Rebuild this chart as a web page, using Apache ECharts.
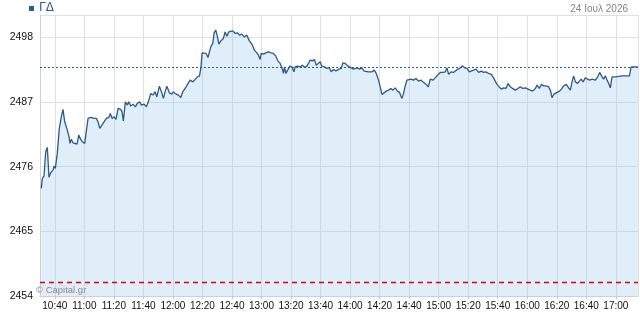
<!DOCTYPE html>
<html>
<head>
<meta charset="utf-8">
<script src="https://cdn.jsdelivr.net/npm/echarts@6/dist/echarts.min.js"></script>
<style>
html,body{margin:0;padding:0;background:#fff;}
#chart{width:640px;height:313px;}
</style>
</head>
<body>
<div id="chart"></div>
<script>
var times = [
'10:30:53','10:31:34','10:32:43','10:33:52','10:34:57','10:36:06','10:37:15','10:38:49','10:39:29','10:40:22',
'10:41:43','10:43:05','10:44:26','10:45:35','10:46:44','10:48:30','10:49:39','10:50:20','10:51:13','10:52:22',
'10:53:31','10:55:04','10:56:14','10:57:35','10:58:40','11:00:17','11:01:23','11:02:32','11:04:22','11:06:36',
'11:08:09','11:09:19','11:10:28','11:11:32','11:13:22','11:14:56','11:16:34','11:17:38','11:18:47','11:20:09',
'11:21:30','11:22:52','11:24:41','11:25:34','11:26:27','11:27:49','11:29:10','11:30:07','11:31:28','11:33:02',
'11:34:35','11:35:56','11:37:34','11:38:39','11:40:29','11:42:02','11:43:23','11:45:01','11:46:23','11:47:56',
'11:49:05','11:50:51','11:52:29','11:53:34','11:54:43','11:55:52','11:57:38','11:59:15','12:00:20','12:02:10',
'12:03:44','12:05:21','12:06:43','12:07:47','12:08:56','12:10:06','12:11:39','12:13:29','12:15:02','12:16:36',
'12:17:58','12:18:55','12:19:47','12:21:08','12:22:30','12:23:51','12:24:44','12:25:53','12:27:02','12:27:55',
'12:29:04','12:30:10','12:31:07','12:32:28','12:34:13','12:35:22','12:36:32','12:37:53','12:39:14','12:40:35',
'12:42:09','12:43:43','12:45:04','12:46:41','12:48:15','12:50:05','12:51:50','12:53:53','12:55:14','12:56:52',
'12:57:56','12:59:05','12:59:46','13:01:20','13:02:58','13:04:43','13:06:33','13:08:07','13:09:44','13:11:05',
'13:12:39','13:13:48','13:14:53','13:15:34','13:16:31','13:17:52','13:19:13','13:20:35','13:21:56','13:22:49',
'13:24:38','13:26:12','13:27:46','13:29:07','13:30:44','13:31:50','13:32:59','13:34:32','13:35:54','13:37:03',
'13:38:12','13:39:46','13:40:55','13:42:40','13:44:18','13:45:52','13:47:13','13:48:46','13:50:24','13:52:10',
'13:53:59','13:55:08','13:56:42','13:58:32','14:00:05','14:02:20','14:04:38','14:06:23','14:08:01','14:09:34',
'14:12:29','14:14:47','14:16:21','14:17:43','14:19:16','14:20:25','14:21:34','14:22:40','14:24:29','14:26:02',
'14:27:40','14:29:02','14:30:35','14:32:08','14:33:30','14:35:07','14:36:13','14:37:22','14:38:31','14:39:36',
'14:41:13','14:42:59','14:44:37','14:46:23','14:48:00','14:49:46','14:51:35','14:52:57','14:54:18','14:56:08',
'14:57:41','14:59:15','15:01:05','15:02:55','15:04:28','15:05:37','15:06:43','15:08:20','15:10:06','15:11:55',
'15:13:05','15:14:38','15:16:11','15:17:33','15:19:11','15:20:44','15:22:05','15:23:39','15:25:17','15:27:02',
'15:28:52','15:30:26','15:32:03','15:33:49','15:35:39','15:37:12','15:38:22','15:39:31','15:41:04','15:42:25',
'15:43:59','15:45:37','15:46:58','15:48:31','15:50:05','15:51:55','15:53:44','15:55:18','15:56:52','15:58:41',
'16:00:31','16:02:04','16:03:38','16:05:28','16:06:37','16:08:10','16:09:32','16:11:05','16:12:43','16:14:29',
'16:15:50','16:16:47','16:17:52','16:20:10','16:21:56','16:23:34','16:24:38','16:26:28','16:28:02','16:29:11',
'16:30:20','16:31:25','16:32:34','16:34:08','16:35:29','16:36:26','16:37:47','16:39:21','16:40:54','16:42:16',
'16:43:53','16:44:58','16:46:07','16:47:41','16:49:02','16:50:40','16:51:45','16:52:54','16:54:03','16:55:08',
'16:56:17','16:57:26','16:58:31','16:59:41','17:00:50','17:04:24','17:09:12','17:10:20','17:14:48'
];
var values = [
2472.31,2474.01,2474.40,2478.53,2479.28,2474.18,2474.96,2475.42,2476.10,2475.71,
2478.26,2482.51,2484.48,2485.74,2483.63,2482.22,2481.08,2479.96,2480.64,2480.06,
2480.23,2479.84,2481.37,2480.64,2480.23,2479.96,2479.67,2484.21,2484.38,2484.21,
2484.21,2483.63,2482.51,2482.78,2483.63,2484.21,2484.38,2485.06,2484.21,2484.48,
2484.04,2485.91,2485.74,2485.33,2483.80,2487.03,2486.47,2487.03,2486.30,2486.64,
2486.18,2486.76,2487.03,2486.47,2486.64,2486.18,2487.03,2488.46,2488.17,2488.73,
2487.88,2489.70,2488.56,2487.61,2488.73,2489.70,2488.56,2488.34,2488.73,2488.34,
2488.17,2487.78,2488.73,2489.02,2489.58,2489.31,2490.72,2490.43,2490.84,2491.28,
2491.40,2492.71,2495.36,2495.53,2495.26,2494.58,2495.53,2496.50,2496.96,2498.76,
2499.22,2498.08,2496.84,2497.40,2497.81,2498.93,2498.20,2498.93,2498.66,2499.10,
2498.66,2498.76,2498.37,2498.54,2498.08,2498.37,2497.40,2496.67,2495.82,2495.36,
2494.97,2494.24,2495.26,2495.14,2495.36,2495.53,2495.36,2495.26,2494.80,2494.00,
2493.56,2492.88,2491.86,2492.98,2491.86,2492.13,2493.10,2492.98,2492.13,2492.98,
2493.10,2492.98,2493.27,2492.88,2493.10,2493.56,2494.12,2494.00,2494.24,2493.27,
2493.10,2493.83,2493.10,2492.98,2492.71,2492.88,2492.13,2492.54,2492.30,2492.54,
2492.71,2493.66,2493.56,2493.10,2492.88,2492.59,2492.81,2492.59,2492.81,2492.25,
2492.13,2492.13,2492.42,2491.86,2490.72,2489.58,2488.29,2488.46,2488.85,2489.02,
2489.31,2489.02,2489.41,2488.85,2488.63,2487.61,2488.46,2489.75,2490.72,2490.55,
2490.89,2490.72,2491.01,2490.55,2490.72,2490.33,2489.99,2489.58,2490.89,2490.72,
2491.11,2491.57,2492.03,2492.03,2492.13,2492.81,2491.69,2492.13,2492.03,2492.42,
2492.42,2492.81,2493.15,2492.81,2492.71,2492.13,2491.86,2492.42,2492.59,2492.03,
2492.25,2492.03,2492.13,2491.86,2491.69,2491.11,2491.28,2489.99,2489.58,2489.19,
2489.41,2489.31,2490.16,2489.58,2489.31,2489.02,2489.31,2489.58,2489.31,2489.41,
2489.19,2489.02,2488.85,2489.31,2489.87,2489.31,2489.99,2489.75,2489.75,2489.58,
2488.85,2487.71,2488.29,2488.63,2488.85,2489.31,2489.75,2489.99,2489.41,2489.02,
2490.43,2491.45,2490.43,2490.16,2490.33,2490.89,2490.43,2491.11,2490.89,2490.72,
2490.89,2490.55,2490.72,2491.28,2492.03,2491.28,2490.89,2491.45,2490.72,2490.16,
2489.41,2491.28,2491.45,2491.28,2491.45,2491.45,2491.45,2492.98,2492.98
];
var yTicks = [2454, 2465, 2476, 2487, 2498];
var yMax = 2501.8;
var refLow = 2456.33;
var title = 'ΓΔ';
var dateText = '24 Ιουλ 2026';
var watermark = '© Capital.gr';
var sessionStart = '10:30:00';
var sessionEnd = '17:15:00';
var xTickMinutes = 20;

// minutes since midnight
function mins(t){ var p = t.split(':'); return (+p[0]) * 60 + (+p[1]) + (+(p[2] || 0)) / 60; }
var seriesData = times.map(function(t, i){ return [mins(t), values[i]]; });
var lastVal = values[values.length - 1];
function pad(n){ return (n < 10 ? '0' : '') + n; }
var xMin = mins(sessionStart), xMax = mins(sessionEnd);

var chart = echarts.init(document.getElementById('chart'), null, {renderer: 'canvas'});
chart.setOption({
  animation: false,
  backgroundColor: '#ffffff',
  grid: {left: 40, right: 2, top: 15, bottom: 17, containLabel: false, outerBoundsMode: 'none'},
  graphic: [
    {type: 'rect', left: 29, top: 6, shape: {width: 5, height: 5}, style: {fill: '#2d5d8e'}},
    {type: 'text', left: 39, top: 2, style: {text: title, fill: '#2d5d8e', font: '12px "DejaVu Sans"'}},
    {type: 'text', right: 12, top: 4, style: {text: dateText, fill: '#858585', font: '10px "Liberation Sans"'}},
    {type: 'text', left: 36, top: 285, z: 10, style: {text: watermark, fill: '#8a8a8a', font: '9.5px "Liberation Sans"'}}
  ],
  xAxis: {
    type: 'value',
    min: xMin,
    max: xMax,
    splitNumber: Math.round((xMax - xMin) / xTickMinutes),
    axisLine: {show: true, lineStyle: {color: '#d0d0d0', width: 1}},
    axisTick: {show: true, length: 3, lineStyle: {color: '#c8c8c8'}},
    splitLine: {show: true, lineStyle: {color: '#e0e0e0', width: 1}},
    axisLabel: {
      color: '#111', fontFamily: 'Liberation Sans', fontSize: 10, margin: 5,
      showMinLabel: false, showMaxLabel: false,
      formatter: function(v){ var h = Math.floor(v / 60), m = Math.round(v - h * 60); return pad(h) + ':' + pad(m); }
    }
  },
  yAxis: {
    type: 'value',
    min: yTicks[0],
    max: yMax,
    interval: yTicks[1] - yTicks[0],
    axisLine: {show: true, lineStyle: {color: '#d0d0d0', width: 1}},
    axisTick: {show: false},
    splitLine: {show: true, lineStyle: {color: '#e0e0e0', width: 1}},
    axisLabel: {
      color: '#111', fontFamily: 'Liberation Sans', fontSize: 10.5, margin: 7,
      showMaxLabel: false,
      formatter: function(v){ return yTicks.indexOf(Math.round(v * 100) / 100) >= 0 ? String(v) : ''; }
    }
  },
  series: [{
    type: 'line',
    data: seriesData,
    showSymbol: false,
    symbol: 'none',
    lineStyle: {color: '#2a5a8c', width: 1.3},
    areaStyle: {color: 'rgba(150,196,236,0.42)', origin: 'start'},
    markLine: {
      silent: true,
      symbol: 'none',
      label: {show: false},
      animation: false,
      data: [
        {yAxis: lastVal, lineStyle: {color: '#2a5a8c', type: [2, 2], width: 1}},
        {yAxis: refLow, lineStyle: {color: '#e00000', type: [5, 4], width: 1.4}}
      ]
    }
  }]
});
</script>
</body>
</html>
